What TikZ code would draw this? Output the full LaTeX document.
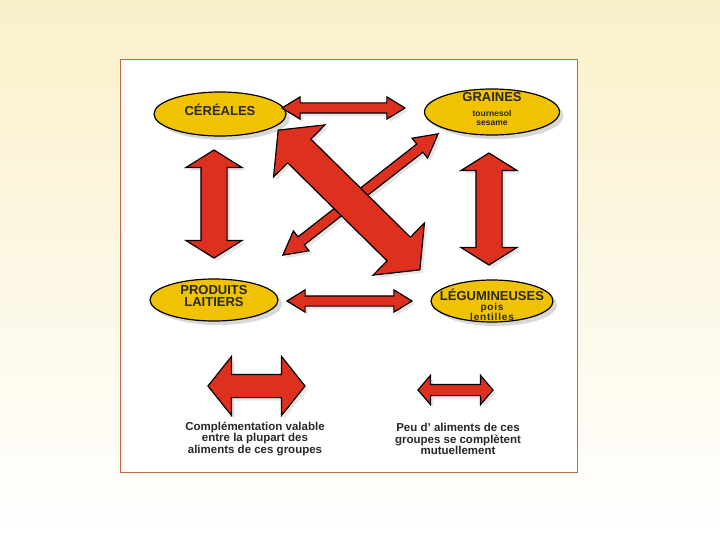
\documentclass[tikz,border=0pt]{standalone}
\usepackage{fontspec}
\setmainfont{Liberation Sans}
\usetikzlibrary{shapes.geometric,shapes.arrows,shadows}

\definecolor{jaune}{RGB}{241,194,0}
\definecolor{rouge}{RGB}{222,48,30}
\definecolor{fondhaut}{RGB}{250,240,202}
\definecolor{bordure}{RGB}{196,102,62}
\definecolor{texte}{RGB}{40,40,40}

\tikzset{
  groupe/.style={ellipse, draw=black, line width=1.2pt, fill=jaune, inner sep=0pt,
    drop shadow={opacity=0.3, shadow xshift=4pt, shadow yshift=-4pt}},
  % longueur, demi-largeur du corps, debord de la pointe, angle de la pointe
  fleche/.style n args={4}{double arrow, draw=black, line width=1.2pt, fill=rouge,
    inner xsep=0pt, inner ysep=#2, minimum height=#1,
    double arrow head extend=#3, double arrow tip angle=#4,
    double arrow head indent=0pt,
    drop shadow={opacity=0.2, shadow xshift=3pt, shadow yshift=-3pt}},
  nom/.style={align=center, text=texte, inner sep=0pt,
    font=\bfseries\fontsize{13}{12.5}\selectfont},
  legende/.style={align=center, font=\bfseries\fontsize{11.5}{11.5}\selectfont,
    text=texte, inner sep=0pt}
}
\newcommand{\petit}{\fontsize{8.5}{9}\selectfont}
\newcommand{\moyen}{\fontsize{10}{10.5}\selectfont\addfontfeature{LetterSpace=8}}

\begin{document}
\begin{tikzpicture}[x=1pt,y=-1pt]
  \useasboundingbox (0,0) rectangle (720,540);
  \shade[top color=fondhaut, bottom color=white] (0,0) rectangle (720,540);
  \draw[bordure, fill=white, line width=1pt] (120,60) rectangle (577,472);

  % les groupes
  \node[groupe, minimum width=132pt, minimum height=44pt] (cereales) at (220,114) {};
  \node[groupe, minimum width=135pt, minimum height=46pt] (graines) at (492,112) {};
  \node[groupe, minimum width=128pt, minimum height=42pt] (produits) at (214,300) {};
  \node[groupe, minimum width=122pt, minimum height=42pt] (legumineuses) at (492,301) {};

  \node[nom] (cereales-txt) at (220,110) {CÉRÉALES};
  \node[nom] (graines-txt) at (492,97.5) {GRAINES};
  \node[nom, font=\bfseries\petit] (graines-sous) at (492,117.5) {tournesol\\\petit sesame};
  \node[nom] (produits-txt) at (214,296) {PRODUITS\\LAITIERS};
  \node[nom] (legumineuses-txt) at (492,294.5) {LÉGUMINEUSES};
  \node[nom, font=\bfseries\moyen] (legumineuses-sous) at (492,312) {pois\\\moyen lentilles};

  % les fleches
  \node[fleche={197pt}{4.5pt}{7.5pt}{57}, rotate=38] (fine) at (360.5,194.5) {};
  \node[fleche={199pt}{16pt}{20pt}{102}, rotate=-44.6] (grande) at (349,200) {};
  \node[fleche={123pt}{4.5pt}{6pt}{63}] (haut) at (343.5,108) {};
  \node[fleche={125pt}{4.5pt}{6pt}{63}] (milieu) at (349.5,301) {};
  \node[fleche={108pt}{12.5pt}{15pt}{116}, rotate=90] (gauche) at (214,204) {};
  \node[fleche={112pt}{12.5pt}{15pt}{116}, rotate=90] (droite) at (489,209) {};

  % legende
  \node[fleche={97pt}{11pt}{18pt}{103}] (fleche1) at (256.5,386) {};
  \node[fleche={75pt}{5pt}{9pt}{99}] (fleche2) at (455.5,390) {};
  \node[legende] (legende1) at (255,438.5)
    {Complémentation valable\\entre la plupart des\\aliments de ces groupes};
  \node[legende] (legende2) at (458,439)
    {Peu d' aliments de ces\\groupes se complètent\\mutuellement};
\end{tikzpicture}
\end{document}
